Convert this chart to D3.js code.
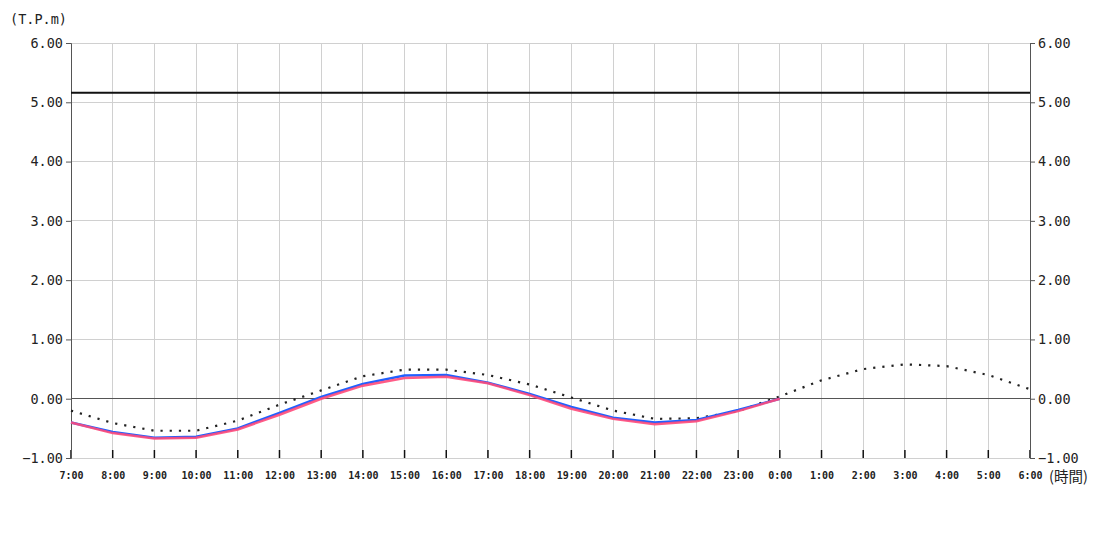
<!DOCTYPE html>
<html><head><meta charset="utf-8">
<script src="https://cdn.jsdelivr.net/npm/d3@7"></script>
<style>body{margin:0;background:#fff}svg{display:block}text{font-family:"DejaVu Sans Mono",monospace;fill:#222}</style>
</head><body><svg id="c" width="1100" height="550"></svg>
<script>
const hours = ["7:00","8:00","9:00","10:00","11:00","12:00","13:00","14:00","15:00","16:00","17:00","18:00","19:00","20:00","21:00","22:00","23:00","0:00","1:00","2:00","3:00","4:00","5:00","6:00"];
const yTicks = [-1,0,1,2,3,4,5,6];
const predicted = [-0.20,-0.41,-0.54,-0.54,-0.37,-0.10,0.14,0.38,0.49,0.49,0.40,0.24,0.02,-0.20,-0.34,-0.33,-0.21,0.04,0.31,0.50,0.58,0.55,0.40,0.16];
const observedBlue = [-0.40,-0.56,-0.66,-0.64,-0.50,-0.24,0.03,0.25,0.39,0.40,0.27,0.08,-0.14,-0.32,-0.40,-0.36,-0.19,0.00];
const observedRed = [-0.40,-0.58,-0.67,-0.66,-0.52,-0.27,0.00,0.22,0.35,0.37,0.26,0.06,-0.17,-0.34,-0.43,-0.38,-0.21,0.00];
const warningLevel = 5.16;

const svg = d3.select("#c");
const L=71,R=1030,T=43,B=458;
const x = d3.scalePoint().domain(hours).range([L,R]);
const y = d3.scaleLinear().domain([-1,6]).range([B,T]);

// grid
svg.append("g").selectAll("line").data(hours).join("line")
  .attr("x1",d=>x(d)).attr("x2",d=>x(d)).attr("y1",T).attr("y2",B)
  .attr("stroke","#d0d0d0").attr("stroke-width",1).attr("shape-rendering","crispEdges");
svg.append("g").selectAll("line").data(yTicks).join("line")
  .attr("x1",L).attr("x2",R).attr("y1",d=>y(d)).attr("y2",d=>y(d))
  .attr("stroke",d=>d===0?"#555":"#d0d0d0").attr("stroke-width",1).attr("shape-rendering","crispEdges");

// bottom ticks inside
svg.append("g").selectAll("line").data(hours).join("line")
  .attr("x1",d=>x(d)).attr("x2",d=>x(d)).attr("y1",B-8).attr("y2",B)
  .attr("stroke","#111").attr("stroke-width",1.5);

// axes
const fmt = d3.format(".2f");
const yl = svg.append("g").attr("transform",`translate(${L},0)`)
  .call(d3.axisLeft(y).tickValues(yTicks).tickFormat(fmt).tickSize(5).tickPadding(3));
const yr = svg.append("g").attr("transform",`translate(${R},0)`)
  .call(d3.axisRight(y).tickValues(yTicks).tickFormat(fmt).tickSize(5).tickPadding(3));
[yl,yr].forEach(g=>{
  g.select(".domain").attr("stroke","#555");
  g.selectAll(".tick line").attr("stroke","#555");
  g.selectAll("text").style("font-size","13.5px").attr("fill","#222").style("font-family","DejaVu Sans Mono, monospace");
});
const xa = svg.append("g").attr("transform",`translate(0,${B})`)
  .call(d3.axisBottom(x).tickSize(0).tickPadding(14));
xa.select(".domain").remove();
xa.selectAll("text").style("font-size","10px").attr("fill","#222").style("font-weight","bold").style("font-family","DejaVu Sans Mono, monospace");

svg.append("text").attr("x",10).attr("y",24).style("font-size","13.5px").text("(T.P.m)");
svg.append("text").attr("x",1049).attr("y",482).style("font-size","14.5px").style("font-family","'Noto Sans CJK JP', 'DejaVu Sans Mono'").text("(時間)");

// warning level line
svg.append("line").attr("x1",L).attr("x2",R).attr("y1",y(warningLevel)).attr("y2",y(warningLevel))
  .attr("stroke","#111").attr("stroke-width",2);

const line = d3.line().x((d,i)=>x(hours[i])).y(d=>y(d));
svg.append("path").datum(predicted).attr("d",line).attr("fill","none")
  .attr("stroke","#222").attr("stroke-width",2.2).attr("stroke-dasharray","2.2,7");
svg.append("path").datum(observedBlue).attr("d",line).attr("fill","none")
  .attr("stroke","#2060ff").attr("stroke-width",2.5);
svg.append("path").datum(observedRed).attr("d",line).attr("fill","none")
  .attr("stroke","#ff4a7a").attr("stroke-width",2.5).attr("stroke-opacity",0.9);
</script></body></html>
